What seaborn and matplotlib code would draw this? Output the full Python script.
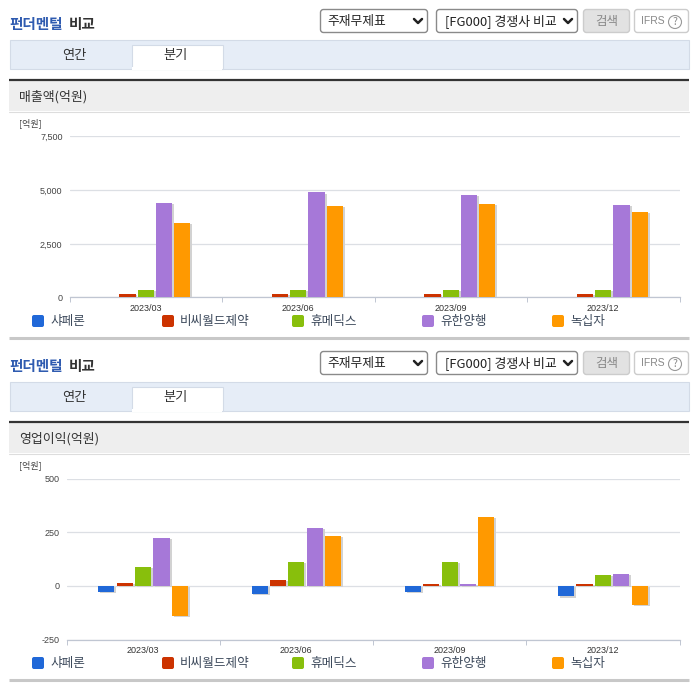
import numpy as np
import pandas as pd
import matplotlib
matplotlib.use('Agg')
import matplotlib.pyplot as plt
import matplotlib.patheffects as pe
from matplotlib.patches import Rectangle, FancyBboxPatch, Circle
import seaborn as sns

sns.set_theme(style='white')
plt.rcParams['font.family'] = ['Noto Sans CJK KR', 'DejaVu Sans']

quarters = ['2023/03', '2023/06', '2023/09', '2023/12']
companies = ['샤페론', '비씨월드제약', '휴메딕스', '유한양행', '녹십자']
colors = ['#2068d8', '#cc3300', '#88bf0c', '#a678d8', '#ff9900']

# 매출액
sales_sha = [np.nan, np.nan, np.nan, np.nan]
sales_bc = [170, 170, 170, 170]
sales_hu = [350, 350, 360, 360]
sales_yu = [4410, 4900, 4780, 4310]
sales_gc = [3480, 4270, 4360, 3990]
sales_ticks = [0, 2500, 5000, 7500]

# 영업이익
op_sha = [-28, -36, -28, -48]
op_bc = [15, 29, 9, 9]
op_hu = [90, 113, 113, 52]
op_yu = [225, 270, 9, 57]
op_gc = [-139, 233, 321, -88]
op_ticks = [-250, 0, 250, 500]

W, H = 696, 684
fig = plt.figure(figsize=(W / 100, H / 100), dpi=100)

bg = fig.add_axes([0, 0, 1, 1], zorder=0)
bg.set_xlim(0, W)
bg.set_ylim(H, 0)
bg.axis('off')


def box(x0, y0, x1, y1, face, edge, lw=0.8, rounded=False):
    if rounded:
        p = FancyBboxPatch((x0, y0), x1 - x0, y1 - y0, boxstyle='round,pad=0,rounding_size=3',
                           fc=face, ec=edge, lw=lw)
    else:
        p = Rectangle((x0, y0), x1 - x0, y1 - y0, fc=face, ec=edge, lw=lw)
    bg.add_patch(p)


def chevron(x, y):
    bg.plot([x - 4, x, x + 4], [y - 2, y + 2, y - 2], color='#222222', lw=1.8)


def draw_frame(dy, heading):
    bg.text(9, 24 + dy, '펀더멘털', color='#2f5bb0', fontsize=10.5, fontweight='bold', va='center')
    bg.text(69, 24 + dy, '비교', color='#333333', fontsize=10.5, fontweight='bold', va='center')

    box(320.5, 9.5 + dy, 427.5, 32.5 + dy, 'white', '#8a8a8a', 1, True)
    bg.text(327, 21 + dy, '주재무제표', color='#222222', fontsize=9.2, va='center')
    chevron(418, 21 + dy)
    box(436.5, 9.5 + dy, 577.5, 32.5 + dy, 'white', '#8a8a8a', 1, True)
    bg.text(445, 21 + dy, '[FG000] 경쟁사 비교', color='#222222', fontsize=9.3, va='center')
    chevron(568, 21 + dy)
    box(583.5, 9.5 + dy, 629.5, 32.5 + dy, '#e2e2e2', '#cccccc', 1, True)
    bg.text(606.5, 21 + dy, '검색', color='#888888', fontsize=9, ha='center', va='center')
    box(634.5, 9.5 + dy, 688.5, 32.5 + dy, 'white', '#cccccc', 1, True)
    bg.text(641, 21 + dy, 'IFRS', color='#888888', fontsize=7.5, va='center', family='Liberation Sans')
    bg.add_patch(Circle((675, 22 + dy), 6.5, fc='white', ec='#999999', lw=0.8))
    bg.text(675, 22 + dy, '?', color='#888888', fontsize=7.5, ha='center', va='center')

    box(9.5, 39.5 + dy, 688.5, 68.5 + dy, '#e6edf7', '#d3dbe7')
    box(131.5, 44.5 + dy, 222.5, 68.5 + dy, 'white', '#d3dbe7')
    bg.add_patch(Rectangle((132, 67 + dy), 90, 2.5, fc='white', ec='none'))
    bg.text(74, 56 + dy, '연간', color='#333333', fontsize=9.5, ha='center', va='center')
    bg.text(176, 56 + dy, '분기', color='#333333', fontsize=9.5, ha='center', va='center')

    bg.add_patch(Rectangle((9, 81 + dy), 680, 30, fc='#eeeeee', ec='none'))
    bg.plot([9, 689], [111.5 + dy, 111.5 + dy], color='#dddddd', lw=0.8)
    bg.plot([9, 689], [80 + dy, 80 + dy], color='#333333', lw=1.6, solid_capstyle='butt')
    bg.text(19, 96.5 + dy, heading, color='#333333', fontsize=9.3, va='center')
    bg.text(19, 123.5 + dy, '[억원]', color='#444444', fontsize=6.5, va='center')

    for i, name in enumerate(companies):
        x = 32 + 130 * i
        bg.add_patch(FancyBboxPatch((x, 315 + dy), 12, 12, boxstyle='round,pad=0,rounding_size=2',
                                    fc=colors[i], ec='none'))
        bg.text(x + 18, 321 + dy, name, color='#3d4a5c', fontsize=9.1, va='center')

    bg.plot([9, 689], [338 + dy, 338 + dy], color='#c8c8c8', lw=2.2, solid_capstyle='butt')


def draw_chart(series, ticks, left, top, bottom, right=679.5):
    rows = []
    for name, vals in zip(companies, series):
        for q, v in zip(quarters, vals):
            rows.append({'quarter': q, 'company': name, 'value': v})
    df = pd.DataFrame(rows)

    ax = fig.add_axes([left / W, 1 - bottom / H, (right - left) / W, (bottom - top) / H], zorder=1)
    ax.patch.set_alpha(0)
    sns.barplot(data=df, x='quarter', y='value', hue='company', order=quarters, hue_order=companies,
                palette=colors, saturation=1, width=0.6, gap=0.12, legend=False, ax=ax, zorder=3)
    for bar in ax.patches:
        bar.set_linewidth(0)
        bar.set_path_effects([
            pe.SimplePatchShadow(offset=(1.4, -1), shadow_rgbFace='#d2d2d2', alpha=1),
            pe.Normal(),
        ])

    ax.set_xlim(-0.5, 3.5)
    ax.set_ylim(ticks[0], ticks[-1])
    ax.set_xlabel('')
    ax.set_ylabel('')
    ax.set_yticks(ticks)
    ax.set_yticklabels([f'{t:,}' for t in ticks], fontsize=6.5, color='#444444',
                       family='Liberation Sans')
    ax.yaxis.grid(True, color='#dcdfe4', lw=0.9, zorder=0)
    ax.set_axisbelow(True)
    ax.set_xticks(np.arange(-0.5, 4, 1))
    ax.set_xticklabels([])
    ax.set_xticks(np.arange(4), minor=True)
    ax.set_xticklabels(quarters, minor=True, fontsize=6.5, color='#333333', family='Liberation Sans')
    ax.tick_params(axis='x', which='major', length=3.5, width=0.7, color='#c0c6d2', bottom=True)
    ax.tick_params(axis='x', which='minor', length=0, pad=5, bottom=False)
    ax.tick_params(axis='y', length=0, pad=5)
    for side in ['top', 'left', 'right']:
        ax.spines[side].set_visible(False)
    ax.spines['bottom'].set_color('#c0c6d2')
    ax.spines['bottom'].set_linewidth(0.9)
    return ax


draw_frame(0, '매출액(억원)')
draw_frame(342, '영업이익(억원)')

draw_chart([sales_sha, sales_bc, sales_hu, sales_yu, sales_gc], sales_ticks, 69.5, 136.5, 297.5)
draw_chart([op_sha, op_bc, op_hu, op_yu, op_gc], op_ticks, 66.5, 478.5, 639.5)

fig.savefig('out.png', dpi=100)
